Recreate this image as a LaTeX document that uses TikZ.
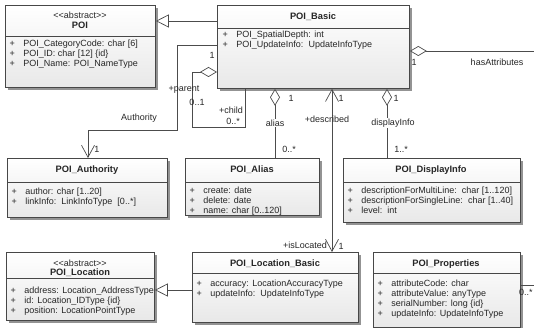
\documentclass[tikz,border=0pt]{standalone}
\usepackage{fontspec}
\setmainfont{Liberation Sans}
\usetikzlibrary{arrows.meta,shadows}
\newcommand{\attrfont}{\fontsize{9}{10}\selectfont}
\newcommand{\ttlfont}{\fontsize{9.3}{10}\selectfont\bfseries}
\newcommand{\stereoabs}{<\kern0pt<abstract>\kern0pt>}
\newenvironment{attrtab}{\begin{tabular}{@{}l@{\hspace{8.5pt}}l@{}}}{\end{tabular}}
\begin{document}
\begin{tikzpicture}[x=1pt,y=-1pt,
  cls/.style={draw=black!72, line width=0.8pt, top color=white, bottom color=black!9,
    drop shadow={shadow xshift=2.5pt, shadow yshift=-2.5pt, fill=black!50, opacity=0.85},
    inner sep=0pt, anchor=north west},
  sepline/.style={draw=black!72, line width=0.7pt},
  ttl/.style={font=\ttlfont, inner sep=0pt, text=black!85},
  ster/.style={font=\attrfont, inner sep=0pt, text=black!85},
  attrs/.style={font=\attrfont, inner sep=0pt, anchor=north west, text=black!85},
  lbl/.style={font=\attrfont, inner sep=0pt, text=black!85},
  conn/.style={draw=black!70, line width=0.7pt},
  gen/.style={conn, -{Triangle[fill=white,length=13pt,width=13pt]}},
  agg/.style={conn, {Diamond[fill=white,length=17pt,width=10pt]}-},
  nav/.style={conn, -{Straight Barb[length=12pt,width=13pt]}},
]
\useasboundingbox (0,0) rectangle (534,328);

% ---------- POI ----------
\node[cls, minimum width=150pt, minimum height=82pt] (poi) at (5,5) {};
\node[ster] (poiS) at (80,15) {\stereoabs};
\node[ttl] (poiT) at (80,25.5) {POI};
\draw[sepline] (poi.west |- 0,36) -- (poi.east |- 0,36);
\node[attrs] (poiA) at (9.5,39) {\begin{attrtab}
+ & POI\_CategoryCode: char [6]\\
+ & POI\_ID: char [12] \{id\}\\
+ & POI\_Name: POI\_NameType
\end{attrtab}};

% ---------- POI_Basic ----------
\node[cls, minimum width=192pt, minimum height=83pt] (basic) at (217,5) {};
\node[ttl] (basicT) at (313,17) {POI\_Basic};
\draw[sepline] (basic.west |- 0,28) -- (basic.east |- 0,28);
\node[attrs] (basicA) at (222.5,30) {\begin{attrtab}
+ & POI\_SpatialDepth: int\\
+ & POI\_UpdateInfo:\ \ UpdateInfoType
\end{attrtab}};

% ---------- POI_Authority ----------
\node[cls, minimum width=160pt, minimum height=59pt] (auth) at (7,158) {};
\node[ttl] (authT) at (87,170) {POI\_Authority};
\draw[sepline] (auth.west |- 0,182) -- (auth.east |- 0,182);
\node[attrs] (authA) at (11.5,187) {\begin{attrtab}
+ & author: char [1..20]\\
+ & linkInfo:\ \ LinkInfoType\ \ [0..*]
\end{attrtab}};

% ---------- POI_Alias ----------
\node[cls, minimum width=134pt, minimum height=57pt] (alias) at (185,158) {};
\node[ttl] (aliasT) at (252,170) {POI\_Alias};
\draw[sepline] (alias.west |- 0,182) -- (alias.east |- 0,182);
\node[attrs] (aliasA) at (189.5,186) {\begin{attrtab}
+ & create: date\\
+ & delete: date\\
+ & name: char [0..120]
\end{attrtab}};

% ---------- POI_DisplayInfo ----------
\node[cls, minimum width=177pt, minimum height=64pt] (disp) at (343,158) {};
\node[ttl] (dispT) at (431,170) {POI\_DisplayInfo};
\draw[sepline] (disp.west |- 0,182) -- (disp.east |- 0,182);
\node[attrs] (dispA) at (347.5,186) {\begin{attrtab}
+ & descriptionForMultiLine:\ \ char [1..120]\\
+ & descriptionForSingleLine:\ \ char [1..40]\\
+ & level:\ \ int
\end{attrtab}};

% ---------- POI_Location ----------
\node[cls, minimum width=148pt, minimum height=68pt] (loc) at (6,252) {};
\node[ster] (locS) at (80,263) {\stereoabs};
\node[ttl] (locT) at (80,272.5) {POI\_Location};
\draw[sepline] (loc.west |- 0,278) -- (loc.east |- 0,278);
\node[attrs] (locA) at (10.5,286) {\begin{attrtab}
+ & address: Location\_AddressType\\
+ & id: Location\_IDType \{id\}\\
+ & position: LocationPointType
\end{attrtab}};

% ---------- POI_Location_Basic ----------
\node[cls, minimum width=166pt, minimum height=70pt] (lbasic) at (192,252) {};
\node[ttl] (lbasicT) at (275,264) {POI\_Location\_Basic};
\draw[sepline] (lbasic.west |- 0,273) -- (lbasic.east |- 0,273);
\node[attrs] (lbasicA) at (196.5,279) {\begin{attrtab}
+ & accuracy: LocationAccuracyType\\
+ & updateInfo:\ \ UpdateInfoType
\end{attrtab}};

% ---------- POI_Properties ----------
\node[cls, minimum width=147pt, minimum height=75pt] (prop) at (373,252) {};
\node[ttl] (propT) at (446,264) {POI\_Properties};
\draw[sepline] (prop.west |- 0,273) -- (prop.east |- 0,273);
\node[attrs] (propA) at (377.5,279) {\begin{attrtab}
+ & attributeCode: char\\
+ & attributeValue: anyType\\
+ & serialNumber: long \{id\}\\
+ & updateInfo: UpdateInfoType
\end{attrtab}};

% ---------- connectors ----------
% generalization POI_Basic -> POI
\draw[gen] (basic.west |- 0,21) -- (poi.east |- 0,21);
% generalization POI_Location_Basic -> POI_Location
\draw[gen] (lbasic.west |- 0,290) -- (loc.east |- 0,290);

% Authority
\draw[nav] (basic.west |- 0,45) -- (177,45) -- (177,130) -- (88,130) -- (auth.north -| 88,0);
\node[lbl] (lAuth) at (139,118) {Authority};
\node[lbl] (lAuth1) at (97,149) {1};

% parent / child self association
\draw[agg] (basic.west |- 0,72) -- (192,72) -- (192,127) -- (245,127) -- (basic.south -| 245,0);
\node[lbl] (lPar1) at (212,55) {1};
\node[lbl] (lPar) at (184,90) {+parent};
\node[lbl] (lPar01) at (197,102) {0..1};
\node[lbl] (lChild) at (231,110) {+child};
\node[lbl] (lChild0) at (233,121) {0..*};

% alias
\draw[agg] (basic.south -| 275,0) -- (alias.north -| 275,0);
\node[lbl] (lAl1) at (291,98) {1};
\node[lbl, fill=white, inner sep=0.5pt] (lAl) at (275,123) {alias};
\node[lbl] (lAl0) at (289,149) {0..*};

% described / isLocated
\draw[conn, {Straight Barb[length=12pt,width=13pt]}-{Straight Barb[length=12pt,width=13pt]}]
  (basic.south -| 332,0) -- (lbasic.north -| 332,0);
\node[lbl] (lDesc1) at (341,98) {1};
\node[lbl] (lDesc) at (327,119) {+described};
\node[lbl] (lLoc) at (305,245) {+isLocated};
\node[lbl] (lLoc1) at (341,246) {1};

% displayInfo
\draw[agg] (basic.south -| 387,0) -- (disp.north -| 387,0);
\node[lbl] (lDi1) at (396,98) {1};
\node[lbl, fill=white, inner sep=0.5pt] (lDi) at (393,123) {displayInfo};
\node[lbl] (lDi0) at (401,149) {1..*};

% hasAttributes
\coordinate (haEnd) at (534,51);
\draw[agg] (basic.east |- 0,51) -- (haEnd);
\node[lbl] (lHa1) at (414,62) {1};
\node[lbl] (lHa) at (497,62) {hasAttributes};
\coordinate (propEnd) at (534,285);
\draw[conn] (prop.east |- 0,285) -- (propEnd);
\node[lbl, anchor=west] (lProp0) at (519,292) {0..*};
\end{tikzpicture}
\end{document}
